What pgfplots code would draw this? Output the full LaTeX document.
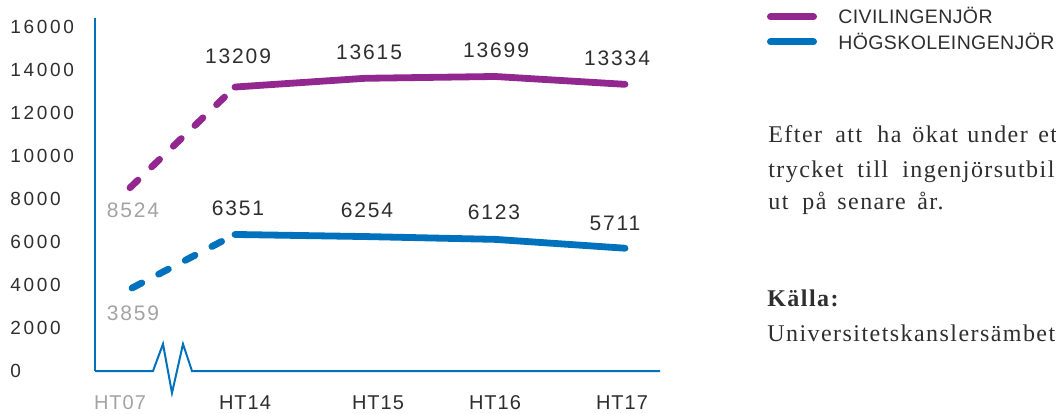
\documentclass[border=0pt]{standalone}
\usepackage{pgfplots}
\pgfplotsset{compat=1.18}
\usepackage{fontspec}
\setmainfont{Liberation Sans}
\newfontfamily\tickfont[LetterSpace=14]{Liberation Sans}
\newfontfamily\xtickfont[LetterSpace=5]{Liberation Sans}
\newfontfamily\datafont[LetterSpace=9]{Liberation Sans}
\newfontfamily\legfont[LetterSpace=2]{Liberation Sans}
\newfontfamily\parafont[LetterSpace=6]{Liberation Serif}
\definecolor{cpurple}{HTML}{92278F}
\definecolor{cblue}{HTML}{0071BC}
\definecolor{ctext}{HTML}{2E2E2E}
\definecolor{cgray}{HTML}{A3A3A3}
\begin{document}
\begin{tikzpicture}
\path[use as bounding box] (0,0) rectangle (528pt,206.5pt);
\begin{axis}[
  at={(47.5pt,8.1pt)}, anchor=south west,
  scale only axis, width=282.5pt, height=189.4pt,
  xmin=95, xmax=660, ymin=-1200, ymax=16420,
  scaled y ticks=false, scaled x ticks=false,
  axis line style={draw=none}, major tick length=0pt, clip=false,
  /pgf/number format/assume math mode=true,
  ytick={0,2000,4000,6000,8000,10000,12000,14000,16000},
  yticklabels={0,2000,4000,6000,8000,10000,12000,14000,16000},
  yticklabel style={anchor=west, inner sep=0pt, xshift=-42.5pt,
    font=\tickfont\fontsize{9.5}{11}\selectfont, text=ctext},
  xtick={120,245,378,495,622},
  xticklabels={{\textcolor{cgray}{HT07}},HT14,HT15,HT16,HT17},
  xticklabel style={anchor=base, inner sep=0pt, yshift=-6.6pt,
    font=\xtickfont\fontsize{10}{12}\selectfont, text=ctext},
]
% axis lines
\draw[cblue, line width=1pt] (axis cs:95,0) -- (axis cs:95,16420);
\draw[cblue, line width=1pt] (axis cs:95,0) -- (axis cs:153,0) -- (axis cs:163,1256) -- (axis cs:172,-1023) -- (axis cs:183,1256) -- (axis cs:192,0) -- (axis cs:660,0);
% Civilingenjör
\addplot[cpurple, line width=3.4pt, line cap=round, dash pattern=on 5.5pt off 9.5pt] coordinates {(130,8524) (235,13209)};
\addplot[cpurple, line width=3.4pt, line cap=round, line join=round] coordinates {(235,13209) (365,13615) (495,13699) (625,13334)};
% Högskoleingenjör
\addplot[cblue, line width=3.4pt, line cap=round, dash pattern=on 5.5pt off 9.5pt] coordinates {(132,3859) (235,6351)};
\addplot[cblue, line width=3.4pt, line cap=round, line join=round] coordinates {(235,6351) (365,6254) (495,6123) (625,5711)};
% data labels
\begin{scope}[every node/.style={inner sep=0pt, font=\datafont\fontsize{10.5}{12}\selectfont, text=ctext}]
\node[text=cgray] at (axis cs:133,7488) {8524};
\node[text=cgray] at (axis cs:133,2698) {3859};
\node at (axis cs:238,14651) {13209};
\node at (axis cs:369,14837) {13615};
\node at (axis cs:496,14930) {13699};
\node at (axis cs:617,14558) {13334};
\node at (axis cs:238,7581) {6351};
\node at (axis cs:367,7488) {6254};
\node at (axis cs:494,7395) {6123};
\node at (axis cs:615,6884) {5711};
\end{scope}
\end{axis}
\begin{scope}[x=0.5pt, y=-0.5pt, shift={(0,206.5pt)}]
\clip (0,0) rectangle (1056,413);
\draw[cpurple, line width=3.5pt, line cap=round] (770.5,17) -- (813.5,17);
\draw[cblue, line width=3.5pt, line cap=round] (770.5,42) -- (813.5,42);
\begin{scope}[every node/.style={anchor=base west, inner sep=0pt, text=ctext, font=\legfont\fontsize{9.75}{12}\selectfont}]
\node at (838,24) {CIVILINGENJÖR};
\node at (838,50) {HÖGSKOLEINGENJÖR};
\end{scope}
\begin{scope}[every node/.style={anchor=base west, inner sep=0pt, text=ctext, font=\parafont\fontsize{12}{14}\selectfont}]
\node at (768,143) {Efter};
\node at (835,143) {att};
\node at (877,143) {ha};
\node at (912,143) {ökat};
\node at (967,143) {under};
\node at (1038,143) {ett};
\node at (768,178) {trycket};
\node at (857,178) {till};
\node at (902,178) {ingenjörsutbil};
\node at (768,210) {ut};
\node at (802,210) {på};
\node at (837,210) {senare};
\node at (917,210) {år.};
\node[font=\parafont\bfseries\fontsize{12}{14}\selectfont] at (767,307) {Källa:};
\node at (767,341) {Universitetskanslersämbetet};
\end{scope}
\end{scope}
\end{tikzpicture}
\end{document}
